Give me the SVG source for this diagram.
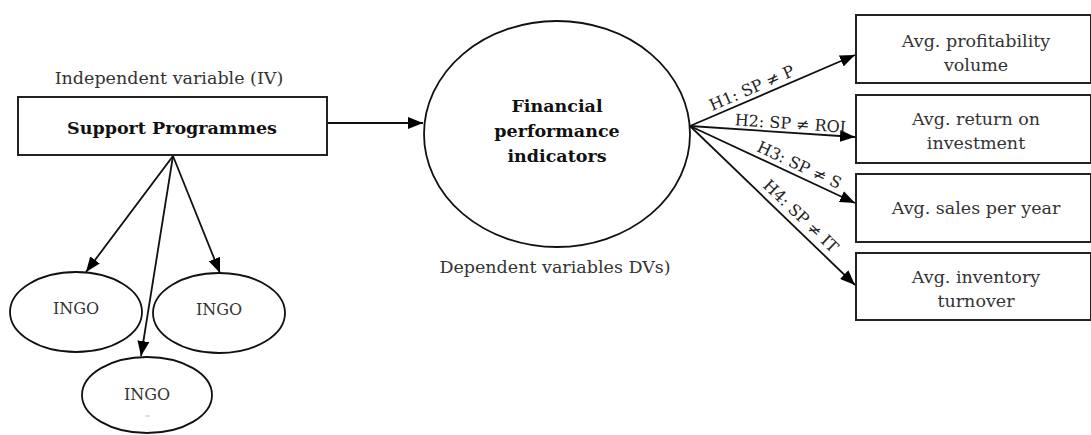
<svg xmlns="http://www.w3.org/2000/svg" width="1091" height="435" viewBox="0 0 1091 435">
<style>
  .box{fill:#fff;stroke:#222;stroke-width:2}
  .ell{fill:#fff;stroke:#111;stroke-width:1.8}
  .t{font-family:"DejaVu Serif","Liberation Serif",serif;font-size:17.5px;fill:#333;text-anchor:middle}
  .b{font-family:"DejaVu Serif","Liberation Serif",serif;font-size:17.5px;font-weight:bold;fill:#111;text-anchor:middle}
  .s{font-family:"DejaVu Serif","Liberation Serif",serif;font-size:16px;fill:#222;text-anchor:middle}
  .c{stroke:#111;stroke-width:1.8;fill:none;marker-end:url(#ah)}
</style>
<defs>
  <marker id="ah" markerUnits="userSpaceOnUse" markerWidth="16" markerHeight="12" refX="15" refY="6" orient="auto">
    <path d="M0,0 L15,6 L0,12 Z" fill="#000"/>
  </marker>
</defs>
<rect width="1091" height="435" fill="#fff"/>

<g id="connectors">
  <line class="c" x1="327" y1="123" x2="423" y2="123"/>
  <line class="c" x1="173" y1="156" x2="86" y2="272"/>
  <line class="c" x1="173" y1="156" x2="220" y2="273"/>
  <line class="c" x1="173" y1="156" x2="141" y2="356"/>
  <line class="c" x1="690" y1="126" x2="855" y2="55"/>
  <line class="c" x1="690" y1="126" x2="855" y2="137"/>
  <line class="c" x1="690" y1="126" x2="855" y2="203"/>
  <line class="c" x1="690" y1="126" x2="855" y2="285"/>
  <text class="s" transform="translate(754,93) rotate(-23.3)">H1: SP ≠ P</text>
  <text class="s" transform="translate(790,129) rotate(3.8)">H2: SP ≠ ROI</text>
  <text class="s" transform="translate(797,170) rotate(25)">H3: SP ≠ S</text>
  <text class="s" transform="translate(797,220) rotate(43.9)">H4: SP ≠ IT</text>
</g>

<g id="iv-label">
  <text class="t" x="169" y="84">Independent variable (IV)</text>
</g>

<g id="support-programmes">
  <rect class="box" x="18" y="97" width="309" height="58"/>
  <text class="b" x="172" y="134">Support Programmes</text>
</g>

<g id="ingo-left">
  <ellipse class="ell" cx="76" cy="312" rx="66" ry="40"/>
  <text class="t" x="76" y="314" style="font-size:16px">INGO</text>
</g>
<g id="ingo-right">
  <ellipse class="ell" cx="219" cy="313" rx="66" ry="40"/>
  <text class="t" x="219" y="315" style="font-size:16px">INGO</text>
</g>
<g id="ingo-bottom">
  <ellipse class="ell" cx="147" cy="395" rx="65" ry="38"/>
  <text class="t" x="147" y="400" style="font-size:16px">INGO</text>
  <line x1="145" y1="416" x2="150" y2="416" stroke="#bbb" stroke-width="1"/>
</g>

<g id="financial-performance">
  <ellipse class="ell" cx="557" cy="134" rx="133" ry="113"/>
  <text class="b" x="557" y="112">Financial</text>
  <text class="b" x="557" y="137">performance</text>
  <text class="b" x="557" y="162">indicators</text>
</g>

<g id="dv-label">
  <text class="t" x="555" y="273">Dependent variables DVs)</text>
</g>

<g id="profitability">
  <rect class="box" x="856" y="15" width="235" height="68"/>
  <text class="t" x="976" y="47">Avg. profitability</text>
  <text class="t" x="976" y="71">volume</text>
</g>
<g id="roi">
  <rect class="box" x="856" y="95" width="235" height="68"/>
  <text class="t" x="976" y="125">Avg. return on</text>
  <text class="t" x="976" y="149">investment</text>
</g>
<g id="sales">
  <rect class="box" x="856" y="174" width="235" height="68"/>
  <text class="t" x="976" y="214">Avg. sales per year</text>
</g>
<g id="inventory">
  <rect class="box" x="856" y="253" width="235" height="67"/>
  <text class="t" x="976" y="283">Avg. inventory</text>
  <text class="t" x="976" y="307">turnover</text>
</g>
</svg>
